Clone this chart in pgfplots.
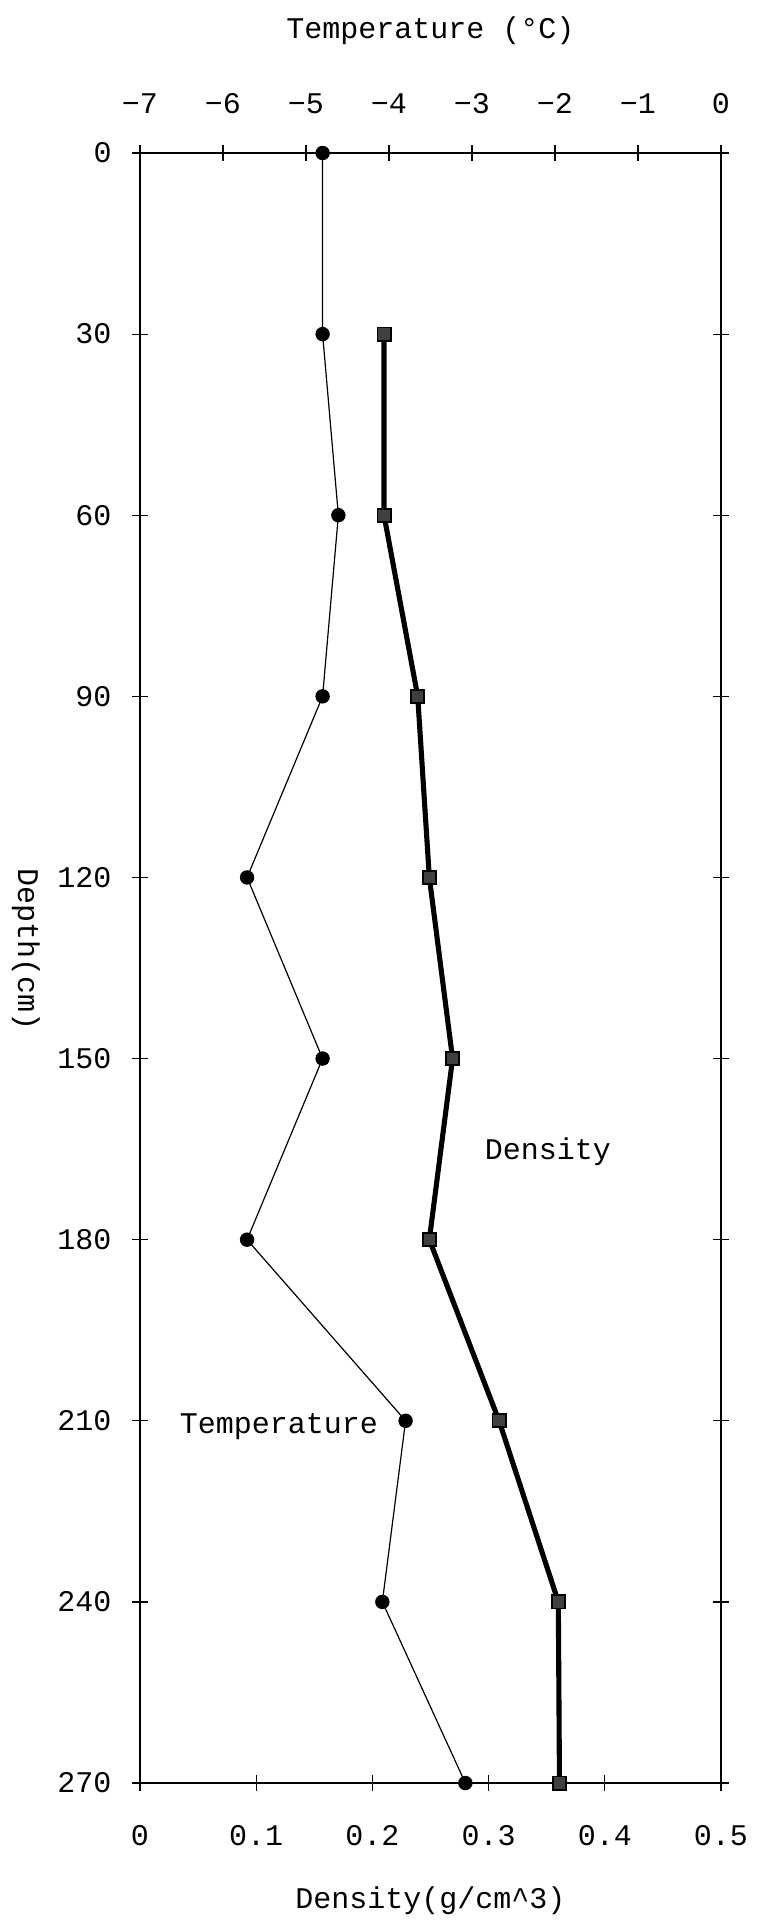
\documentclass[border=0pt]{standalone}
\usepackage{fontspec}
\setmainfont{Liberation Mono}
\usepackage{pgfplots}
\pgfplotsset{compat=1.18}
\begin{document}
\begin{tikzpicture}
\path[use as bounding box] (-46.667pt,-46pt) rectangle (206.333pt,594.333pt);
\begin{axis}[
  at={(0,0)}, anchor=south west,
  scale only axis, width=193.667pt, height=543.333pt,
  xmin=0, xmax=0.5, ymin=0, ymax=270, y dir=reverse,
  clip=false,
  axis line style={line width=0.4pt},
  tick align=center, major tick length=5.33pt,
  tick style={line width=0.4pt, black},
  xtick pos=left, ytick pos=both, yticklabel pos=left,
  xticklabel shift=7.8pt, yticklabel shift=3.3pt,
  xtick={0,0.1,0.2,0.3,0.4,0.5},
  xticklabels={0,0.1,0.2,0.3,0.4,0.5},
  ytick={0,30,60,90,120,150,180,210,240,270},
  yticklabels={0,30,60,90,120,150,180,210,240,270},
  xlabel={Density(g/cm\textasciicircum 3)},
  ylabel={Depth(cm)},
  every axis x label/.style={at={(rel axis cs:0.5,0)}, anchor=center, yshift=-39.33pt},
  every axis y label/.style={at={(rel axis cs:0,0.5)}, anchor=center, xshift=-38pt, yshift=6.3pt, rotate=-90},
]
\addplot[black, line width=1.7pt, mark=square*, mark size=2.2pt,
  mark options={fill=black!75, draw=black, line width=0.6pt}]
  coordinates {(0.210,30) (0.210,60) (0.239,90) (0.249,120) (0.269,150) (0.249,180) (0.309,210) (0.360,240) (0.361,270)};
\node[anchor=center] at (axis cs:0.351,165.5) {Density};
\node[anchor=center] at (axis cs:0.1196,211) {Temperature};
\end{axis}
\begin{axis}[
  at={(0,0)}, anchor=south west,
  scale only axis, width=193.667pt, height=543.333pt,
  xmin=-7, xmax=0, ymin=0, ymax=270, y dir=reverse,
  clip=false,
  axis x line*=top, axis y line=none,
  axis line style={line width=0.4pt, -},
  tick align=center, major tick length=5.33pt,
  tick style={line width=0.4pt, black},
  xticklabel shift=7pt,
  xtick={-7,-6,-5,-4,-3,-2,-1,0},
  xticklabels={−7,−6,−5,−4,−3,−2,−1,0},
  xlabel={Temperature (°C)},
  every axis x label/.style={at={(rel axis cs:0.5,1)}, anchor=center, yshift=40.67pt},
]
\addplot[black, line width=0.4pt, mark=*, mark size=2.2pt, mark options={fill=black}]
  coordinates {(-4.80,0) (-4.80,30) (-4.61,60) (-4.80,90) (-5.71,120) (-4.80,150) (-5.71,180) (-3.80,210) (-4.08,240) (-3.08,270)};
\end{axis}
\end{tikzpicture}
\end{document}
